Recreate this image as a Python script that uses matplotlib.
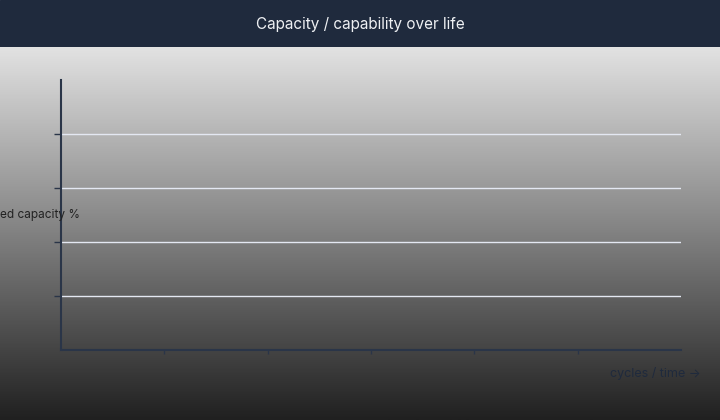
import numpy as np
import matplotlib
matplotlib.use("Agg")
import matplotlib.pyplot as plt
from matplotlib.colors import LinearSegmentedColormap

# ---- data (chart has no plotted series) ----
title = "Capacity / capability over life"
y_label = "Retained capacity %"
x_label = "cycles / time \u2192"
y_ticks = [20, 40, 60, 80]
y_limits = [0, 100]
x_ticks = [1, 2, 3, 4, 5]
x_limits = [0, 6]

plt.rcParams['font.family'] = ['Inter', 'DejaVu Sans']

W, H = 720, 420
fig = plt.figure(figsize=(W / 100, H / 100), dpi=100)

# background gradient
bg = fig.add_axes([0, 0, 1, (H - 47) / H])
bg.set_axis_off()
cmap = LinearSegmentedColormap.from_list("g", ["#e2e2e2", "#202020"])
grad = np.linspace(0, 1, 256).reshape(-1, 1)
bg.imshow(grad, aspect="auto", cmap=cmap, extent=[0, 1, 0, 1], origin="upper")

# banner
ban = fig.add_axes([0, (H - 47) / H, 1, 47 / H])
ban.set_axis_off()
ban.add_patch(plt.Rectangle((0, 0), 1, 1, color="#1f2a3d", transform=ban.transAxes))
fig.text(0.5, 1 - 24 / H, title, ha="center", va="center", color="#eef0f3", fontsize=11)

# main axes
ax = fig.add_axes([61 / W, (H - 350) / H, 620 / W, 270 / H])
ax.patch.set_alpha(0)
ax.set_xlim(*x_limits)
ax.set_ylim(*y_limits)
ax.set_yticks(y_ticks)
ax.set_xticks(x_ticks)
ax.set_yticklabels([])
ax.set_xticklabels([])
for s in ["top", "right"]:
    ax.spines[s].set_visible(False)
for s in ["left", "bottom"]:
    ax.spines[s].set_color("#2a3548")
    ax.spines[s].set_linewidth(1.5)
ax.tick_params(axis="y", length=5, width=1, color="#2a3548", direction="out")
ax.tick_params(axis="x", length=3, width=1, color="#2a3548", direction="out")
ax.grid(axis="y", color="#e4e8f2", linewidth=1)
ax.set_axisbelow(True)

fig.text(80 / W, 1 - 215 / H, y_label, ha="right", va="center", color="#222222", fontsize=8.5)
fig.text(701 / W, 1 - 373 / H, x_label, ha="right", va="center", color="#1f2a3d", fontsize=9)

fig.savefig("out.png", dpi=100)
